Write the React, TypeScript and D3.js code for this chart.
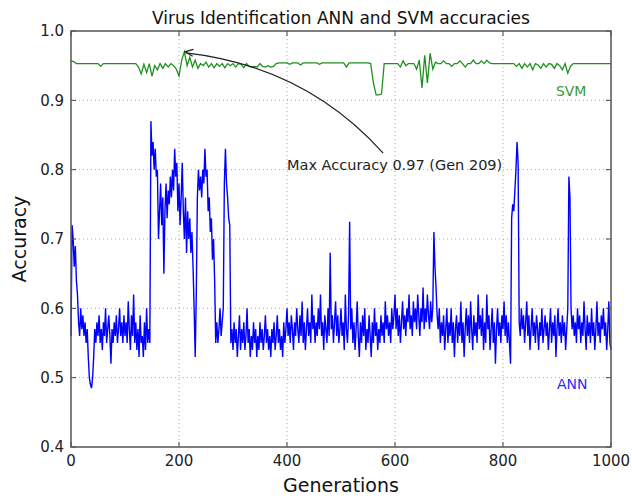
import React from "react";
import * as d3 from "d3";

// ANN sampled every 2 generations, SVM every 5
const annGenerations = d3.range(0, 1001, 2);
const svmGenerations = d3.range(0, 1001, 5);

const annAccuracy = [
  0.56, 0.72, 0.7, 0.66, 0.69, 0.64, 0.62, 0.58, 0.56, 0.6,
  0.57, 0.59, 0.56, 0.58, 0.55, 0.57, 0.53, 0.5, 0.49, 0.485,
  0.5, 0.53, 0.57, 0.55, 0.58, 0.56, 0.59, 0.55, 0.57, 0.54,
  0.58, 0.56, 0.6, 0.55, 0.57, 0.59, 0.56, 0.52, 0.57, 0.55,
  0.58, 0.56, 0.59, 0.55, 0.57, 0.6, 0.56, 0.58, 0.55, 0.59,
  0.56, 0.58, 0.55, 0.61, 0.57, 0.54, 0.59, 0.56, 0.62, 0.55,
  0.58, 0.54, 0.57, 0.53, 0.59, 0.55, 0.56, 0.53, 0.58, 0.54,
  0.6, 0.55, 0.57, 0.55, 0.87, 0.82, 0.84, 0.8, 0.83, 0.79,
  0.8, 0.7, 0.74, 0.78, 0.72, 0.76, 0.65, 0.74, 0.78, 0.73,
  0.77, 0.75, 0.79, 0.76, 0.8, 0.77, 0.83, 0.79, 0.81, 0.74,
  0.78, 0.72, 0.76, 0.81, 0.74, 0.7, 0.76, 0.68, 0.74, 0.7,
  0.73, 0.68, 0.71, 0.66, 0.6, 0.53, 0.62, 0.76, 0.8, 0.77,
  0.79, 0.76, 0.8, 0.78, 0.83, 0.79, 0.8, 0.74, 0.76, 0.71,
  0.73, 0.67, 0.7, 0.64, 0.55, 0.58, 0.55, 0.57, 0.6, 0.56,
  0.58, 0.6, 0.78, 0.83, 0.78, 0.76, 0.73, 0.72, 0.55, 0.57,
  0.54, 0.58, 0.55, 0.57, 0.53, 0.56, 0.59, 0.54, 0.57, 0.55,
  0.58, 0.54, 0.56, 0.6, 0.55, 0.57, 0.53, 0.56, 0.54, 0.58,
  0.55, 0.57, 0.53, 0.56, 0.54, 0.58, 0.55, 0.57, 0.54, 0.56,
  0.59, 0.55, 0.57, 0.54, 0.56, 0.53, 0.57, 0.55, 0.58, 0.54,
  0.56, 0.59, 0.55, 0.57, 0.54, 0.56, 0.53, 0.58, 0.55, 0.57,
  0.6, 0.56, 0.58, 0.55, 0.59, 0.57, 0.54, 0.58, 0.56, 0.6,
  0.57, 0.55, 0.59, 0.56, 0.61, 0.55, 0.58, 0.54, 0.57, 0.6,
  0.56, 0.58, 0.55, 0.62, 0.57, 0.59, 0.55, 0.58, 0.56, 0.6,
  0.57, 0.62, 0.56, 0.58, 0.54, 0.59, 0.57, 0.55, 0.6, 0.56,
  0.68, 0.57, 0.59, 0.55, 0.58, 0.61, 0.56, 0.59, 0.55, 0.57,
  0.6, 0.56, 0.58, 0.54, 0.62, 0.57, 0.55, 0.59, 0.725, 0.57,
  0.6, 0.55, 0.58, 0.54, 0.57, 0.61, 0.56, 0.53, 0.58, 0.55,
  0.59, 0.56, 0.6, 0.54, 0.57, 0.55, 0.59, 0.56, 0.53, 0.58,
  0.55, 0.6, 0.56, 0.58, 0.54, 0.57, 0.55, 0.59, 0.56, 0.58,
  0.55, 0.61, 0.57, 0.59, 0.56, 0.58, 0.55, 0.6, 0.57, 0.59,
  0.62, 0.57, 0.6, 0.56, 0.59, 0.55, 0.58, 0.61, 0.57, 0.59,
  0.56, 0.6, 0.58, 0.62, 0.57, 0.59, 0.56, 0.61, 0.58, 0.6,
  0.57, 0.62, 0.59, 0.56, 0.6, 0.58, 0.63, 0.57, 0.6, 0.58,
  0.62, 0.59, 0.57, 0.61, 0.58, 0.6, 0.71, 0.66, 0.63, 0.59,
  0.57, 0.6, 0.55, 0.58, 0.56, 0.59, 0.54, 0.57, 0.6, 0.55,
  0.58, 0.56, 0.6, 0.55, 0.58, 0.53, 0.57, 0.59, 0.55, 0.58,
  0.56, 0.61, 0.55, 0.58, 0.53, 0.57, 0.6, 0.56, 0.59, 0.55,
  0.61, 0.57, 0.54, 0.59, 0.56, 0.58, 0.55, 0.62, 0.57, 0.59,
  0.56, 0.6, 0.54, 0.58, 0.55, 0.62, 0.57, 0.59, 0.54, 0.57,
  0.6, 0.55, 0.58, 0.52, 0.57, 0.6, 0.56, 0.58, 0.55, 0.59,
  0.57, 0.61, 0.56, 0.59, 0.55, 0.58, 0.55, 0.52, 0.73, 0.75,
  0.74, 0.77, 0.8, 0.84, 0.81, 0.58, 0.56, 0.6, 0.57, 0.59,
  0.55, 0.58, 0.61, 0.56, 0.59, 0.54, 0.57, 0.6, 0.56, 0.58,
  0.55, 0.59, 0.57, 0.54, 0.58, 0.56, 0.6, 0.55, 0.57, 0.59,
  0.56, 0.58, 0.54, 0.57, 0.6, 0.55, 0.58, 0.56, 0.59, 0.53,
  0.57, 0.6, 0.56, 0.58, 0.55, 0.59, 0.56, 0.58, 0.54, 0.57,
  0.6, 0.79, 0.76, 0.6, 0.57, 0.59, 0.56, 0.58, 0.55, 0.6,
  0.57, 0.59, 0.55, 0.58, 0.56, 0.61, 0.57, 0.54, 0.59, 0.56,
  0.58, 0.55, 0.6, 0.56, 0.58, 0.54, 0.57, 0.61, 0.56, 0.58,
  0.55, 0.59, 0.57, 0.6, 0.56, 0.58, 0.54, 0.57, 0.61, 0.55,
  0.54,
];

const svmAccuracy = [
  0.957, 0.956, 0.953, 0.953, 0.953, 0.953, 0.953, 0.953, 0.953, 0.953,
  0.953, 0.949, 0.953, 0.953, 0.953, 0.953, 0.953, 0.953, 0.953, 0.953,
  0.953, 0.953, 0.953, 0.953, 0.953, 0.948, 0.938, 0.952, 0.94, 0.953,
  0.935, 0.95, 0.944, 0.953, 0.946, 0.953, 0.948, 0.953, 0.95, 0.945,
  0.935, 0.958, 0.97, 0.95, 0.962, 0.948, 0.958, 0.946, 0.953, 0.95,
  0.955, 0.948, 0.953, 0.947, 0.953, 0.949, 0.953, 0.947, 0.953, 0.95,
  0.953, 0.948, 0.953, 0.952, 0.947, 0.953, 0.949, 0.948, 0.949, 0.948,
  0.953, 0.949, 0.948, 0.95, 0.948, 0.949, 0.953, 0.954, 0.954, 0.954,
  0.954, 0.952, 0.954, 0.954, 0.954, 0.951, 0.954, 0.954, 0.954, 0.954,
  0.954, 0.954, 0.952, 0.954, 0.954, 0.954, 0.954, 0.954, 0.954, 0.954,
  0.954, 0.954, 0.948, 0.954, 0.954, 0.954, 0.954, 0.954, 0.954, 0.954,
  0.954, 0.953, 0.925, 0.908, 0.908, 0.909, 0.953, 0.953, 0.953, 0.953,
  0.953, 0.953, 0.948, 0.957, 0.95, 0.953, 0.953, 0.953, 0.945, 0.958,
  0.918, 0.965, 0.925, 0.968, 0.945, 0.955, 0.953, 0.953, 0.957, 0.953,
  0.953, 0.949, 0.953, 0.953, 0.957, 0.953, 0.948, 0.953, 0.953, 0.958,
  0.953, 0.953, 0.957, 0.953, 0.958, 0.954, 0.953, 0.953, 0.953, 0.953,
  0.953, 0.953, 0.953, 0.953, 0.953, 0.949, 0.953, 0.946, 0.953, 0.948,
  0.953, 0.944, 0.953, 0.951, 0.946, 0.953, 0.948, 0.953, 0.952, 0.946,
  0.953, 0.95, 0.944, 0.953, 0.939, 0.949, 0.953, 0.953, 0.953, 0.953,
  0.953, 0.953, 0.953, 0.953, 0.953, 0.953, 0.953, 0.953, 0.953, 0.953,
  0.953,
];

const xTicks = [0, 200, 400, 600, 800, 1000];
const yTicks = [0.4, 0.5, 0.6, 0.7, 0.8, 0.9, 1.0];

// annotation (data coordinates)
const maxGen = 209;
const maxAcc = 0.97;
const noteText = "Max Accuracy 0.97 (Gen 209)";
const noteAt = { gen: 400, acc: 0.8 };
const arrowFrom = { gen: 578, acc: 0.824 };
const arrowCtrl = { gen: 434, acc: 0.949 };

const W = 632;
const H = 498;
const margin = { top: 31, right: 21, bottom: 51, left: 71 };
const font = "DejaVu Sans, sans-serif";
const svmColor = "#1f8f1f";
const annColor = "#0000ff";

export default function App() {
  const width = W - margin.left - margin.right;
  const height = H - margin.top - margin.bottom;

  const x = d3.scaleLinear().domain([0, 1000]).range([0, width]);
  const y = d3.scaleLinear().domain([0.4, 1.0]).range([height, 0]);

  const annLine = d3
    .line<number>()
    .x((_, i) => x(annGenerations[i]))
    .y((d) => y(d));
  const svmLine = d3
    .line<number>()
    .x((_, i) => x(svmGenerations[i]))
    .y((d) => y(d));

  const p0 = [x(arrowFrom.gen), y(arrowFrom.acc)];
  const pc = [x(arrowCtrl.gen), y(arrowCtrl.acc)];
  const p1 = [x(maxGen), y(maxAcc)];
  const arrowPath = d3.path();
  arrowPath.moveTo(p0[0], p0[1]);
  arrowPath.quadraticCurveTo(pc[0], pc[1], p1[0] + 2, p1[1] + 1);

  // arrow head, pointing along the curve's end tangent
  const ang = Math.atan2(p1[1] - pc[1], p1[0] - pc[0]);
  const headLen = 9;
  const hx = p1[0] + 1;
  const hy = p1[1];
  const head = [
    [hx - headLen * Math.cos(ang - 0.4), hy - headLen * Math.sin(ang - 0.4)],
    [hx, hy],
    [hx - headLen * Math.cos(ang + 0.4), hy - headLen * Math.sin(ang + 0.4)],
  ];

  return (
    <svg width={W} height={H} style={{ position: "absolute", left: 0, top: 0 }}>
      <rect width={W} height={H} fill="#fff" />
      <text
        x={margin.left + width / 2}
        y={24}
        textAnchor="middle"
        fontFamily={font}
        fontSize={17}
        fill="#111"
      >
        Virus Identification ANN and SVM accuracies
      </text>
      <g transform={`translate(${margin.left},${margin.top})`}>
        {xTicks.slice(1, -1).map((t) => (
          <line
            key={"gx" + t}
            x1={x(t)}
            x2={x(t)}
            y1={0}
            y2={height}
            stroke="#aaa"
            strokeDasharray="1,3"
          />
        ))}
        {yTicks.slice(1, -1).map((t) => (
          <line
            key={"gy" + t}
            x1={0}
            x2={width}
            y1={y(t)}
            y2={y(t)}
            stroke="#aaa"
            strokeDasharray="1,3"
          />
        ))}
        <path d={svmLine(svmAccuracy) ?? ""} fill="none" stroke={svmColor} strokeWidth={1.3} />
        <path d={annLine(annAccuracy) ?? ""} fill="none" stroke={annColor} strokeWidth={1.4} />

        <path d={arrowPath.toString()} fill="none" stroke="#222" strokeWidth={1.2} />
        <polyline
          points={head.map((p) => p.join(",")).join(" ")}
          fill="none"
          stroke="#222"
          strokeWidth={1.2}
        />
        <text
          x={x(noteAt.gen)}
          y={y(noteAt.acc)}
          fontFamily={font}
          fontSize={14.5}
          fill="#222"
        >
          {noteText}
        </text>

        <text x={x(898)} y={y(0.906)} fontFamily={font} fontSize={14} fill="#3a9a3a">
          SVM
        </text>
        <text x={x(900)} y={y(0.484)} fontFamily={font} fontSize={14} fill="#2a2aff">
          ANN
        </text>

        {xTicks.map((t) => (
          <g key={"tx" + t} transform={`translate(${x(t)},0)`}>
            <line y1={height} y2={height - 5} stroke="#444" />
            <line y1={0} y2={5} stroke="#444" />
            <text
              y={height + 19}
              textAnchor="middle"
              fontFamily={font}
              fontSize={15}
              fill="#222"
            >
              {t}
            </text>
          </g>
        ))}
        {yTicks.map((t) => (
          <g key={"ty" + t} transform={`translate(0,${y(t)})`}>
            <line x1={0} x2={5} stroke="#444" />
            <line x1={width} x2={width - 5} stroke="#444" />
            <text
              x={-7}
              dy="0.35em"
              textAnchor="end"
              fontFamily={font}
              fontSize={15}
              fill="#222"
            >
              {t.toFixed(1)}
            </text>
          </g>
        ))}
        <rect width={width} height={height} fill="none" stroke="#555" strokeWidth={1.5} />
      </g>
      <text
        x={margin.left + width / 2}
        y={492}
        textAnchor="middle"
        fontFamily={font}
        fontSize={19}
        fill="#111"
      >
        Generations
      </text>
      <text
        transform={`translate(26,${margin.top + height / 2}) rotate(-90)`}
        textAnchor="middle"
        fontFamily={font}
        fontSize={19}
        fill="#111"
      >
        Accuracy
      </text>
    </svg>
  );
}
